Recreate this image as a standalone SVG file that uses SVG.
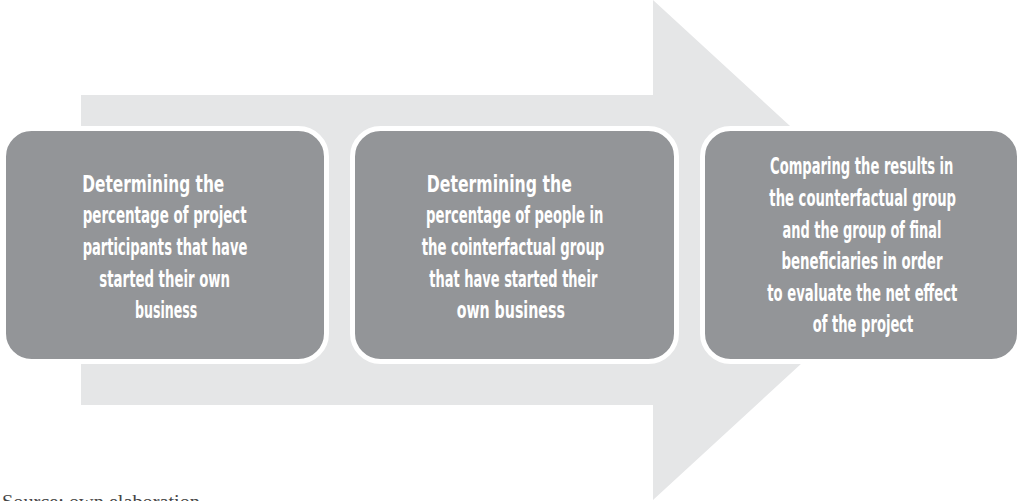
<svg xmlns="http://www.w3.org/2000/svg" width="1022" height="501" viewBox="0 0 1022 501">
  <style>
    .box { fill: #939598; stroke: #ffffff; stroke-width: 5; }
    .lbl { font-family: "Liberation Sans Narrow", "DejaVu Sans Condensed", "Liberation Sans", sans-serif; font-stretch: condensed; font-weight: bold; font-size: 23px; fill: #ffffff; text-anchor: middle; }
    .src { font-family: "Liberation Serif", "DejaVu Serif", serif; font-size: 19px; fill: #444444; }
  </style>
  <rect x="0" y="0" width="1022" height="501" fill="#ffffff"/>
  <g id="connectors">
    <polygon id="big-arrow" points="81,95 653,95 653,0 925,250 653,500 653,405 81,405" fill="#e5e6e7"/>
  </g>
  <g id="node1">
    <rect class="box" x="3.5" y="128.5" width="323" height="233" rx="28" ry="28"/>
    <text class="lbl" x="153.3" y="191.7" textLength="142" lengthAdjust="spacingAndGlyphs">Determining the</text>
    <text class="lbl" x="164.7" y="223.3" textLength="164" lengthAdjust="spacingAndGlyphs">percentage of project</text>
    <text class="lbl" x="165" y="254.9" textLength="164.7" lengthAdjust="spacingAndGlyphs">participants that have</text>
    <text class="lbl" x="164.7" y="286.5" textLength="130.7" lengthAdjust="spacingAndGlyphs">started their own</text>
    <text class="lbl" x="166.2" y="318.1" textLength="62.3" lengthAdjust="spacingAndGlyphs">business</text>
  </g>
  <g id="node2">
    <rect class="box" x="352.5" y="128.5" width="324" height="233" rx="28" ry="28"/>
    <text class="lbl" x="499.3" y="191.7" textLength="145" lengthAdjust="spacingAndGlyphs">Determining the</text>
    <text class="lbl" x="514.7" y="223.3" textLength="177.3" lengthAdjust="spacingAndGlyphs">percentage of people in</text>
    <text class="lbl" x="513" y="254.9" textLength="182.7" lengthAdjust="spacingAndGlyphs">the cointerfactual group</text>
    <text class="lbl" x="513.3" y="286.5" textLength="168" lengthAdjust="spacingAndGlyphs">that have started their</text>
    <text class="lbl" x="510.8" y="318.1" textLength="108.3" lengthAdjust="spacingAndGlyphs">own business</text>
  </g>
  <g id="node3">
    <rect class="box" x="702.5" y="128.5" width="317" height="233" rx="28" ry="28"/>
    <text class="lbl" x="861.7" y="174.3" textLength="183.3" lengthAdjust="spacingAndGlyphs">Comparing the results in</text>
    <text class="lbl" x="862.7" y="205.9" textLength="186.7" lengthAdjust="spacingAndGlyphs">the counterfactual group</text>
    <text class="lbl" x="862" y="237.5" textLength="159" lengthAdjust="spacingAndGlyphs">and the group of final</text>
    <text class="lbl" x="862" y="269.1" textLength="161" lengthAdjust="spacingAndGlyphs">beneficiaries in order</text>
    <text class="lbl" x="862.3" y="300.7" textLength="190" lengthAdjust="spacingAndGlyphs">to evaluate the net effect</text>
    <text class="lbl" x="863" y="332.3" textLength="100.7" lengthAdjust="spacingAndGlyphs">of the project</text>
  </g>
  <text class="src" x="2" y="508" textLength="198" lengthAdjust="spacingAndGlyphs">Source: own elaboration</text>
</svg>
